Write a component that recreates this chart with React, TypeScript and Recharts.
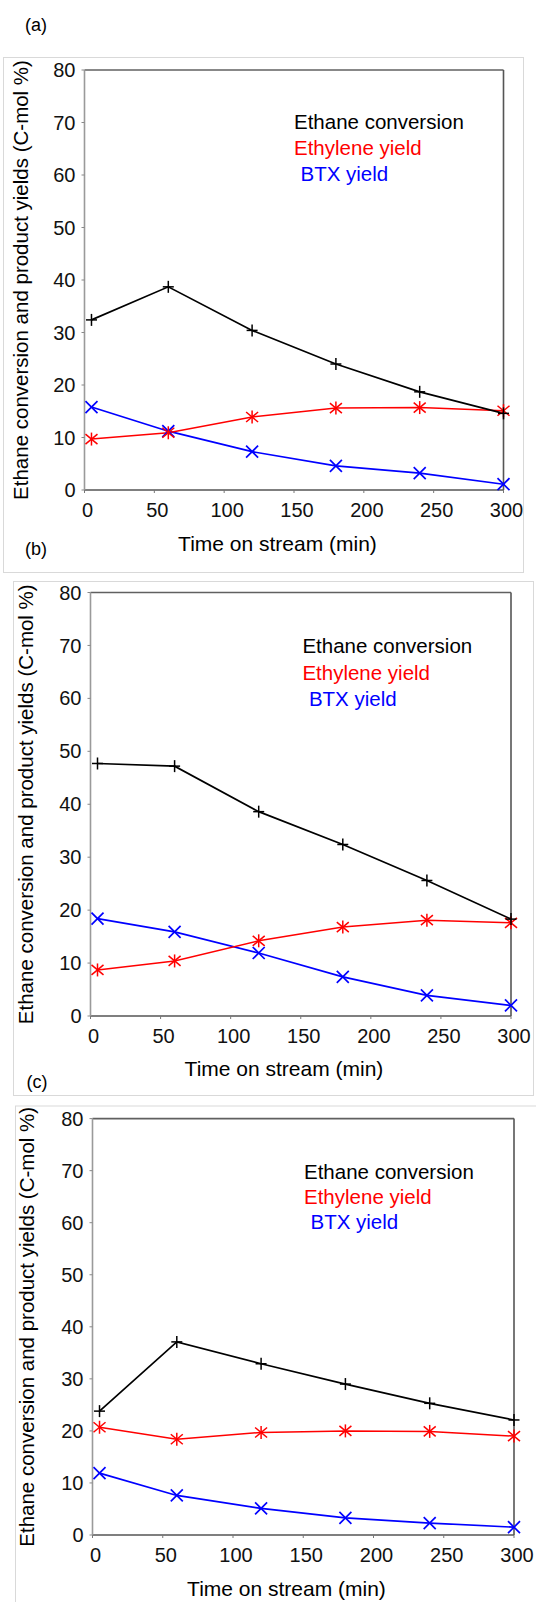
import React from 'react';
import { LineChart, Line, XAxis, YAxis, ReferenceLine } from 'recharts';

// time on stream (min), shared by all three runs
const times = [5, 60, 120, 180, 240, 300];

const aEthaneConversion = [32.4, 38.7, 30.4, 24.0, 18.7, 14.6];
const aEthyleneYield = [9.7, 10.9, 13.9, 15.6, 15.7, 15.1];
const aBtxYield = [15.8, 11.2, 7.3, 4.6, 3.2, 1.1];

const bEthaneConversion = [47.7, 47.2, 38.6, 32.4, 25.6, 18.3];
const bEthyleneYield = [8.7, 10.4, 14.2, 16.8, 18.1, 17.6];
const bBtxYield = [18.4, 15.9, 11.9, 7.4, 3.9, 2.0];

const cEthaneConversion = [23.8, 37.1, 32.9, 29.0, 25.3, 22.1];
const cEthyleneYield = [20.7, 18.4, 19.7, 20.0, 19.9, 19.0];
const cBtxYield = [11.9, 7.6, 5.1, 3.3, 2.3, 1.5];

const xTicks = [0, 50, 100, 150, 200, 250, 300];
const yTicks = [0, 10, 20, 30, 40, 50, 60, 70, 80];

const seriesNames = ['Ethane conversion', 'Ethylene yield', 'BTX yield'];
const xTitle = 'Time on stream (min)';
const yTitle = 'Ethane conversion and product yields (C-mol %)';

const FONT = '"Liberation Sans", Arial, sans-serif';
const BLACK = '#000000';
const RED = '#ff0000';
const BLUE = '#0000ff';

const buildRows = (ethane: number[], ethylene: number[], btx: number[]) =>
  times.map((t, i) => ({ t, ethane: ethane[i], ethylene: ethylene[i], btx: btx[i] }));

const PlusDot = ({ cx, cy }: any) => (
  <g stroke={BLACK} strokeWidth={1.5}>
    <line x1={cx - 5.5} y1={cy} x2={cx + 5.5} y2={cy} />
    <line x1={cx} y1={cy - 6} x2={cx} y2={cy + 6} />
  </g>
);

const StarDot = ({ cx, cy }: any) => (
  <g stroke={RED} strokeWidth={1.5}>
    <line x1={cx} y1={cy - 6.5} x2={cx} y2={cy + 6.5} />
    <line x1={cx - 6} y1={cy - 5} x2={cx + 6} y2={cy + 5} />
    <line x1={cx - 6} y1={cy + 5} x2={cx + 6} y2={cy - 5} />
  </g>
);

const CrossDot = ({ cx, cy }: any) => (
  <g stroke={BLUE} strokeWidth={1.7}>
    <line x1={cx - 6} y1={cy - 6} x2={cx + 6} y2={cy + 6} />
    <line x1={cx - 6} y1={cy + 6} x2={cx + 6} y2={cy - 6} />
  </g>
);

interface PanelLayout {
  letter: string;
  top: number;
  height: number;
  plotLeft: number;
  plotRight: number;
  plotTop: number;
  plotBottom: number;
  frame: { x: number; y: number; w: number; h: number };
  letterPos: { x: number; y: number };
  legendX: number;
  legendY: number;
  legendGap: number;
  xTitlePos: { x: number; y: number };
  yTitleX: number;
}

const panels: { layout: PanelLayout; rows: any[] }[] = [
  {
    layout: {
      letter: '(a)', top: 0, height: 530,
      plotLeft: 84.5, plotRight: 503.5, plotTop: 70, plotBottom: 490,
      frame: { x: 3.5, y: 57.5, w: 520, h: 515 },
      letterPos: { x: 25, y: 31 },
      legendX: 294, legendY: 129.3, legendGap: 25.8,
      xTitlePos: { x: 277.5, y: 550.8 },
      yTitleX: 28.2,
    },
    rows: buildRows(aEthaneConversion, aEthyleneYield, aBtxYield),
  },
  {
    layout: {
      letter: '(b)', top: 540, height: 530,
      plotLeft: 90.5, plotRight: 511, plotTop: 592.5, plotBottom: 1016,
      frame: { x: 13.5, y: 581.5, w: 520, h: 514 },
      letterPos: { x: 25, y: 554.5 },
      legendX: 302.4, legendY: 652.8, legendGap: 26.7,
      xTitlePos: { x: 284, y: 1075.5 },
      yTitleX: 33.4,
    },
    rows: buildRows(bEthaneConversion, bEthyleneYield, bBtxYield),
  },
  {
    layout: {
      letter: '(c)', top: 1070, height: 500,
      plotLeft: 92.5, plotRight: 514, plotTop: 1118.6, plotBottom: 1535,
      frame: { x: 15.5, y: 1106, w: 530, h: 520 },
      letterPos: { x: 26.5, y: 1088 },
      legendX: 304, legendY: 1179, legendGap: 25,
      xTitlePos: { x: 286.5, y: 1596 },
      yTitleX: 34,
    },
    rows: buildRows(cEthaneConversion, cEthyleneYield, cBtxYield),
  },
];

const Y_AXIS_W = 60;
const X_AXIS_H = 30;

const Panel = ({ layout, rows }: { layout: PanelLayout; rows: any[] }) => {
  const margin = {
    top: layout.plotTop - layout.top,
    right: 536 - layout.plotRight,
    left: layout.plotLeft - Y_AXIS_W,
    bottom: layout.height - (layout.plotBottom - layout.top) - X_AXIS_H,
  };
  const tickStyle = { fill: '#111', fontSize: 20, fontFamily: FONT };
  return (
    <div style={{ position: 'absolute', left: 0, top: layout.top }}>
      <LineChart width={536} height={layout.height} data={rows} margin={margin}>
        <XAxis
          dataKey="t"
          type="number"
          domain={[0, 300]}
          ticks={xTicks}
          height={X_AXIS_H}
          tickSize={3}
          tickMargin={10}
          tick={{ ...tickStyle, dx: 3 }}
          axisLine={{ stroke: '#555', strokeWidth: 1.6 }}
          tickLine={{ stroke: '#777' }}
          interval={0}
        />
        <YAxis
          type="number"
          domain={[0, 80]}
          ticks={yTicks}
          width={Y_AXIS_W}
          tickSize={3}
          tickMargin={6}
          tick={tickStyle}
          axisLine={{ stroke: '#9a9a9a', strokeWidth: 1.6 }}
          tickLine={{ stroke: '#888' }}
          interval={0}
        />
        <ReferenceLine y={80} stroke="#606060" strokeWidth={1.6} />
        <ReferenceLine x={300} stroke="#555" strokeWidth={1.6} />
        <Line
          dataKey="btx"
          stroke={BLUE}
          strokeWidth={1.7}
          isAnimationActive={false}
          dot={(p: any) => <CrossDot key={`b-${p.index}`} cx={p.cx} cy={p.cy} />}
          activeDot={false}
        />
        <Line
          dataKey="ethylene"
          stroke={RED}
          strokeWidth={1.5}
          isAnimationActive={false}
          dot={(p: any) => <StarDot key={`r-${p.index}`} cx={p.cx} cy={p.cy} />}
          activeDot={false}
        />
        <Line
          dataKey="ethane"
          stroke={BLACK}
          strokeWidth={1.7}
          isAnimationActive={false}
          dot={(p: any) => <PlusDot key={`k-${p.index}`} cx={p.cx} cy={p.cy} />}
          activeDot={false}
        />
      </LineChart>
    </div>
  );
};

const Annotations = () => (
  <svg
    width={536}
    height={1602}
    style={{ position: 'absolute', left: 0, top: 0, pointerEvents: 'none' }}
    fontFamily={FONT}
  >
    {panels.map(({ layout }) => {
      const yMid = (layout.plotTop + layout.plotBottom) / 2;
      const legendColors = [BLACK, RED, BLUE];
      return (
        <g key={layout.letter}>
          <rect
            x={layout.frame.x}
            y={layout.frame.y}
            width={layout.frame.w}
            height={layout.frame.h}
            fill="none"
            stroke="#d9d9d9"
            strokeWidth={1}
          />
          <text x={layout.letterPos.x} y={layout.letterPos.y} fontSize={18} fill="#000">
            {layout.letter}
          </text>
          {seriesNames.map((name, i) => (
            <text
              key={name}
              x={layout.legendX + (i === 2 ? 6.5 : 0)}
              y={layout.legendY + i * layout.legendGap}
              fontSize={20.5}
              fill={legendColors[i]}
            >
              {name}
            </text>
          ))}
          <text
            x={layout.xTitlePos.x}
            y={layout.xTitlePos.y}
            fontSize={21}
            textAnchor="middle"
            fill="#000"
          >
            {xTitle}
          </text>
          <text
            transform={`translate(${layout.yTitleX}, ${yMid}) rotate(-90)`}
            fontSize={20.5}
            textAnchor="middle"
            fill="#000"
          >
            {yTitle}
          </text>
        </g>
      );
    })}
  </svg>
);

export default function App() {
  return (
    <div style={{ position: 'absolute', left: 0, top: 0, width: 536, height: 1602, background: '#fff' }}>
      <Annotations />
      {panels.map((p) => (
        <Panel key={p.layout.letter} layout={p.layout} rows={p.rows} />
      ))}
    </div>
  );
}
